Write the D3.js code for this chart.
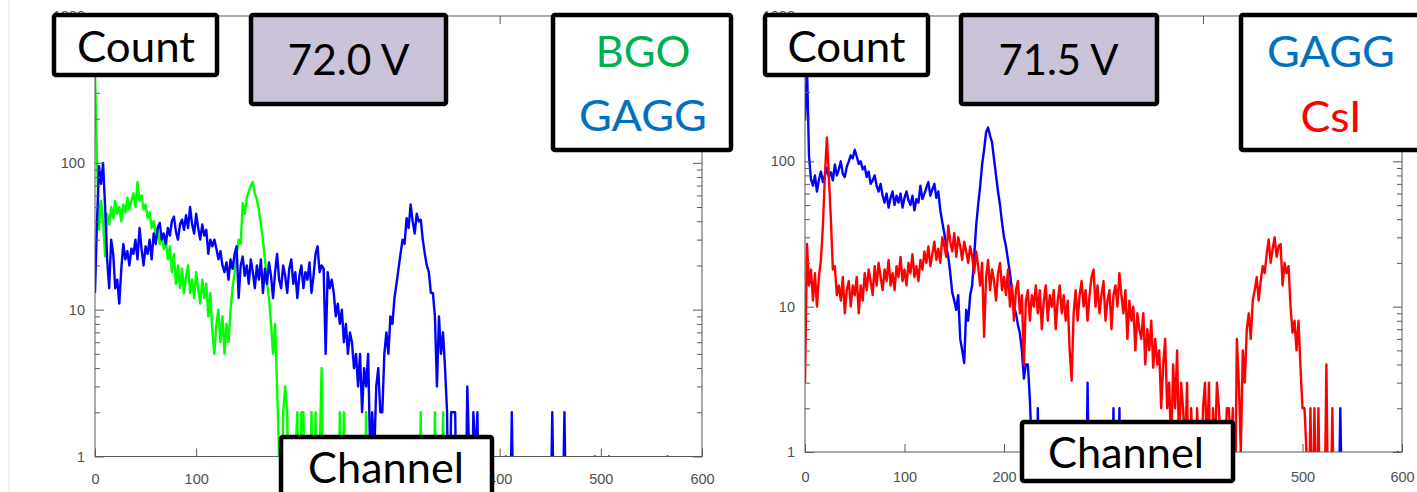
<!DOCTYPE html>
<html><head><meta charset="utf-8">
<script src="https://cdn.jsdelivr.net/npm/d3@7"></script>
<style>body{margin:0;background:#fff;} svg{display:block}</style>
</head><body>
<svg id="c" width="1417" height="492"></svg>
<script>
// ---- data (counts per channel, channel = index * CHANNEL_STEP) ----
const CHANNEL_STEP = 2;
const xTicks = [0, 100, 200, 300, 400, 500, 600];
const yTicks = [1, 10, 100, 1000];
const yTickLabels = ["1", "10", "100", "1000"];
const yMinorTicks = [2,3,4,5,6,7,8,9,20,30,40,50,60,70,80,90,200,300,400,500,600,700,800,900];
// x tick labels hidden under the "Channel" box in each panel
const hiddenXLabelsLeft = [200, 300];
const hiddenXLabelsRight = [300, 400];

// left panel (72.0 V): GAGG
const gaggL = [
 13,40,95,72,100,50,22,14,30,24,
 14,16,11,19,28,22,25,20,26,24,
 30,22,36,26,20,27,24,30,22,33,
 28,36,39,30,33,28,36,32,40,43,
 34,30,38,41,35,44,36,50,38,33,
 45,36,30,38,32,35,24,30,27,30,
 26,22,25,20,18,21,16,22,19,24,
 27,12,20,23,17,20,15,22,18,14,
 20,16,22,13,19,15,21,17,12,18,
 24,16,14,20,17,13,19,22,15,18,
 12,17,20,14,18,16,21,13,17,24,
 27,18,20,19,5,18,14,16,13,9,
 11,8,10,6,8,5,7,6,4,5,
 3,5,2,4,3,5,1,2,1,3,
 4,2,2,5,7,5,9,8,12,15,
 19,24,30,28,42,36,52,40,33,45,
 40,41,30,24,20,18,13,13,9,3,
 9,5,7,4,2,0,2,2,2,0,
 1,0,1,0,3,1,0,2,1,2,
 0,1,0,0,0,0,0,0,0,0,
 0,0,0,1,0,0,2,0,0,0,
 0,0,0,0,0,0,0,0,0,0,
 0,0,0,0,0,0,2,0,0,0,
 0,0,2,0,0,0,0,0,0,0,
 0,0,0,0,0,0,0,1,0,0,
 0,0,0,0,1,0,0,0,0,0,
 0,0,0,0,0,0,0,0,0,0,
 0,0,0,0,0,0,0,0,0,0,
 0,0,0,1,0
];
// left panel (72.0 V): BGO
const bgoL = [
 400,105,35,55,40,23,45,38,50,42,
 55,45,50,40,52,46,58,48,55,62,
 50,74,55,60,48,52,42,46,36,40,
 32,36,28,33,26,30,22,27,18,24,
 15,20,14,19,13,17,20,13,16,12,
 18,14,11,16,12,15,9,13,7,5,
 8,10,6,9,5,8,6,10,14,18,
 24,30,28,53,45,58,64,70,74,62,
 56,48,38,30,22,15,12,8,5,8,
 3,1,0,2,3,2,0,1,0,1,
 2,0,2,2,0,1,0,2,0,2,
 0,1,4,0,1,0,0,0,0,0,
 0,2,0,2,0,0,0,0,0,0,
 0,0,0,0,2,0,0,0,0,0,
 0,0,0,0,0,0,0,0,0,0,
 0,0,0,0,0,0,0,0,0,0,
 0,2,0,0,0,0,0,0,2,0,
 0,0,2,0
];
// right panel (71.5 V): GAGG
const gaggR = [
 190,450,110,75,68,80,62,75,85,72,
 80,90,78,84,74,95,80,88,100,82,
 78,92,100,110,105,120,108,96,100,88,
 92,78,85,70,74,80,68,62,70,58,
 52,60,48,56,62,50,58,52,60,48,
 56,62,54,50,58,46,55,52,68,55,
 60,66,72,58,64,70,56,62,46,38,
 32,26,22,17,12.5,11,9.5,12,6,5,
 4.1,9.5,8,12,14,22,36,50,67,95,
 120,158,171,150,135,103,80,62,50,38,
 30,26,21,17,13,10,9,7.5,6.5,5,
 3.2,4,4,2.3,1,0,0,2,0,0,
 0,0,0,0,0,0,0,0,0,0,
 0,0,0,0,0,0,0,0,0,0,
 0,0,3,0,0,0,0,0,0,0,
 0,0,0,0,0,2,0,0,2,0,
 0,0,0,0,0,0,0,0,0,0,
 0,0,0,0,0,0,0,0,0,0,
 0,0,0,0,0,0,0,0,0,0,
 0,0,0,0,0,0,0,0,0,0,
 0,0,0,0,0,0,0,0,0,0,
 0,0,0,0,0,0,0,0,0,0,
 0,0,0,0,0,0,0,0,0,0,
 0,0,0,0,0,0,0,0,0,0,
 0,0,0,0,0,0,0,0,0,0,
 0,0,0,0,0,0,0,0,0,0,
 0,0,0,0,0,0,0,0,0,2,
 0
];
// right panel (71.5 V): CsI
const csiR = [
 3,27,14,18,11,17,10,16,21,36,
 80,146,79,40,18,19,12,14,11,16,
 9,13,15,10,14,12,16,9,14,11,
 17,13,18,15,12,19,14,20,16,13,
 18,15,21,14,17,13,19,16,22,15,
 18,14,20,17,23,16,19,15,21,18,
 24,20,26,19,23,28,21,25,20,30,
 26,22,36,28,24,32,22,30,26,21,
 28,24,20,26,22,17,24,19,14,20,
 6.2,16,21,13,18,15,11,17,20,13,
 16,12,18,10,14,8,13,15,9,12,
 4,11,13,8,12,10,14,9,13,7,
 11,14,8,12,10,13,7,11,14,9,
 12,8,11,5,3.1,9,13,8,12,15,
 10,13,8,12,16,18,10,14,9,12,
 15,8,11,13,7,12,14,10,17,12,
 9,13,6,11,8,10,5,9,7,6,
 9,4,7,5,8,3.8,6,4,5,2,
 4,6,2,3,1,4,2,5,1,3,
 2,1,3,0,2,1,0,2,1,0,
 2,3,1,3,0,2,1,3,2,1,
 0,1,2,2,1,2,0,6,3,1,
 5,3,7,9,6,11,13,16,11,15,
 19,17,23,29,20,25,30,22,26,27,
 14,20,17,19,10,6.6,8,5,8,3.8,
 2,2,1,0,2,0,2,0,2,0,
 0,0,4,0,0,2,0,0,0,0,
 0,0,0,0,0,0,0,0,0,0,
 0,0,0,0,0,0,0,0,0,0,
 0,0,0,0,0,0,0,0,1,0
];

const yAxisTitle = "Count";
const xAxisTitle = "Channel";
const voltages = ["72.0 V", "71.5 V"];
const legendLeft = ["BGO", "GAGG"];
const legendRight = ["GAGG", "CsI"];

// ---- drawing ----
const svg = d3.select("#c");
const LABEL_FONT = "'Liberation Sans', Arial, sans-serif";
const BOX_FONT = "Lato, 'Open Sans', sans-serif";
const AX = "#595959";

svg.append("line").attr("x1", 9).attr("x2", 9).attr("y1", 0).attr("y2", 492)
  .attr("stroke", "#e6e6e6").attr("stroke-width", 1);

const panels = [
  {id: "L", x0: 95, x1: 702, yTop: 16, yBot: 456.5, xLabPad: 17, hidden: hiddenXLabelsLeft,
   series: [{data: bgoL, color: "#00ff00"}, {data: gaggL, color: "#0000ff"}]},
  {id: "R", x0: 805, x1: 1402, yTop: 16, yBot: 452, xLabPad: 20, hidden: hiddenXLabelsRight,
   series: [{data: gaggR, color: "#0000ff"}, {data: csiR, color: "#ff0000"}]}
];

panels.forEach(p => {
  const x = d3.scaleLinear().domain([0, 600]).range([p.x0, p.x1]);
  const y = d3.scaleLog().domain([1, 1000]).range([p.yBot, p.yTop]);
  const g = svg.append("g");

  g.append("clipPath").attr("id", "clip" + p.id).append("rect")
    .attr("x", p.x0).attr("y", p.yTop).attr("width", p.x1 - p.x0).attr("height", p.yBot - p.yTop);

  const line = d3.line()
    .x((d, i) => x(i * CHANNEL_STEP))
    .y(d => d > 0 ? y(d) : y(0.25));

  p.series.forEach(s => {
    g.append("path").datum(s.data)
      .attr("clip-path", `url(#clip${p.id})`)
      .attr("fill", "none").attr("stroke", s.color)
      .attr("stroke-width", 2.4).attr("stroke-linejoin", "round")
      .attr("d", line);
  });

  const styleAxis = sel => {
    sel.select(".domain").remove();
    sel.selectAll(".tick line").attr("stroke", AX);
    sel.selectAll(".tick text").attr("fill", "#505050")
      .style("font-family", LABEL_FONT).style("font-size", "14.5px");
  };

  // bottom
  g.append("g").attr("transform", `translate(0,${p.yBot})`)
    .call(d3.axisBottom(x).tickValues(xTicks).tickSizeInner(-8).tickSizeOuter(0).tickPadding(p.xLabPad)
      .tickFormat(d => p.hidden.includes(d) ? "" : String(d)))
    .call(styleAxis);
  // top
  g.append("g").attr("transform", `translate(0,${p.yTop})`)
    .call(d3.axisTop(x).tickValues(xTicks).tickSizeInner(-8).tickSizeOuter(0).tickFormat(""))
    .call(styleAxis);
  // left major
  g.append("g").attr("transform", `translate(${p.x0},0)`)
    .call(d3.axisLeft(y).tickValues(yTicks).tickFormat((d, i) => yTickLabels[i])
      .tickSizeInner(-9).tickSizeOuter(0).tickPadding(10))
    .call(styleAxis);
  // left minor
  g.append("g").attr("transform", `translate(${p.x0},0)`)
    .call(d3.axisLeft(y).tickValues(yMinorTicks).tickFormat("").tickSizeInner(-5).tickSizeOuter(0))
    .call(styleAxis);
  // right major/minor
  g.append("g").attr("transform", `translate(${p.x1},0)`)
    .call(d3.axisRight(y).tickValues(yTicks).tickFormat("").tickSizeInner(-9).tickSizeOuter(0))
    .call(styleAxis);
  g.append("g").attr("transform", `translate(${p.x1},0)`)
    .call(d3.axisRight(y).tickValues(yMinorTicks).tickFormat("").tickSizeInner(-5).tickSizeOuter(0))
    .call(styleAxis);

  // frame
  g.append("rect").attr("x", p.x0).attr("y", p.yTop)
    .attr("width", p.x1 - p.x0).attr("height", p.yBot - p.yTop)
    .attr("fill", "none").attr("stroke", AX).attr("stroke-width", 1);
});

// ---- overlay boxes ----
function box(x, y, w, h, fill) {
  svg.append("rect").attr("x", x).attr("y", y).attr("width", w).attr("height", h)
    .attr("rx", 2).attr("fill", fill).attr("stroke", "#000").attr("stroke-width", 4.5);
}
function label(txt, cx, base, color, len) {
  const t = svg.append("text").attr("x", cx).attr("y", base).attr("text-anchor", "middle")
    .style("font-family", BOX_FONT).style("font-size", "43px").attr("fill", color).text(txt);
  if (len) t.attr("textLength", len).attr("lengthAdjust", "spacingAndGlyphs");
}

// left panel boxes
box(54, 15, 163, 60, "#fff");            label(yAxisTitle, 136, 62, "#000", 118);
box(251, 15, 195, 89, "#cbc3da");        label(voltages[0], 348.5, 75, "#000", 122);
box(553, 15, 178, 135, "#fff");
label(legendLeft[0], 643, 67, "#00b050", 95);
label(legendLeft[1], 643, 131, "#0070c0", 128);
box(281, 437, 211, 70, "#fff");          label(xAxisTitle, 386, 483, "#000", 156);

// right panel boxes
box(765, 15, 163, 60, "#fff");           label(yAxisTitle, 846.5, 62, "#000", 118);
box(961, 15, 196, 89, "#cbc3da");        label(voltages[1], 1058.5, 75, "#000", 120);
box(1241, 15, 200, 135, "#fff");
label(legendRight[0], 1331, 67, "#0070c0", 128);
label(legendRight[1], 1331, 132, "#ff0000", 61);
box(1022, 422, 211, 59, "#fff");         label(xAxisTitle, 1126, 468, "#000", 156);
</script>
</body></html>
